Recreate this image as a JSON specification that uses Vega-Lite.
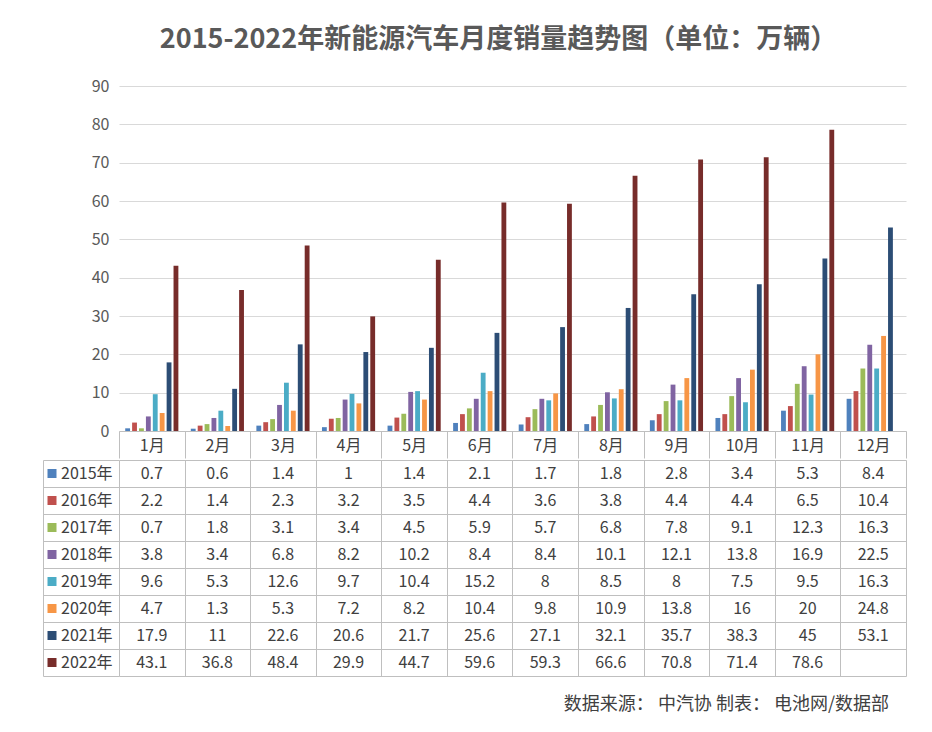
{
  "$schema": "https://vega.github.io/schema/vega-lite/v6.json",
  "background": "white",
  "padding": {"left": 42, "top": 26, "right": 20, "bottom": 10},
  "autosize": {"type": "pad"},
  "title": {
    "text": "2015-2022年新能源汽车月度销量趋势图（单位：万辆）",
    "font": "Noto Sans CJK SC",
    "fontSize": 27,
    "fontWeight": "bold",
    "color": "#595959",
    "anchor": "middle",
    "offset": 24,
    "dx": 24
  },
  "data": {
    "values": [
      {"m": "1月", "y": "2015年", "v": 0.7}, {"m": "2月", "y": "2015年", "v": 0.6}, {"m": "3月", "y": "2015年", "v": 1.4}, {"m": "4月", "y": "2015年", "v": 1.0}, {"m": "5月", "y": "2015年", "v": 1.4}, {"m": "6月", "y": "2015年", "v": 2.1}, {"m": "7月", "y": "2015年", "v": 1.7}, {"m": "8月", "y": "2015年", "v": 1.8}, {"m": "9月", "y": "2015年", "v": 2.8}, {"m": "10月", "y": "2015年", "v": 3.4}, {"m": "11月", "y": "2015年", "v": 5.3}, {"m": "12月", "y": "2015年", "v": 8.4},
      {"m": "1月", "y": "2016年", "v": 2.2}, {"m": "2月", "y": "2016年", "v": 1.4}, {"m": "3月", "y": "2016年", "v": 2.3}, {"m": "4月", "y": "2016年", "v": 3.2}, {"m": "5月", "y": "2016年", "v": 3.5}, {"m": "6月", "y": "2016年", "v": 4.4}, {"m": "7月", "y": "2016年", "v": 3.6}, {"m": "8月", "y": "2016年", "v": 3.8}, {"m": "9月", "y": "2016年", "v": 4.4}, {"m": "10月", "y": "2016年", "v": 4.4}, {"m": "11月", "y": "2016年", "v": 6.5}, {"m": "12月", "y": "2016年", "v": 10.4},
      {"m": "1月", "y": "2017年", "v": 0.7}, {"m": "2月", "y": "2017年", "v": 1.8}, {"m": "3月", "y": "2017年", "v": 3.1}, {"m": "4月", "y": "2017年", "v": 3.4}, {"m": "5月", "y": "2017年", "v": 4.5}, {"m": "6月", "y": "2017年", "v": 5.9}, {"m": "7月", "y": "2017年", "v": 5.7}, {"m": "8月", "y": "2017年", "v": 6.8}, {"m": "9月", "y": "2017年", "v": 7.8}, {"m": "10月", "y": "2017年", "v": 9.1}, {"m": "11月", "y": "2017年", "v": 12.3}, {"m": "12月", "y": "2017年", "v": 16.3},
      {"m": "1月", "y": "2018年", "v": 3.8}, {"m": "2月", "y": "2018年", "v": 3.4}, {"m": "3月", "y": "2018年", "v": 6.8}, {"m": "4月", "y": "2018年", "v": 8.2}, {"m": "5月", "y": "2018年", "v": 10.2}, {"m": "6月", "y": "2018年", "v": 8.4}, {"m": "7月", "y": "2018年", "v": 8.4}, {"m": "8月", "y": "2018年", "v": 10.1}, {"m": "9月", "y": "2018年", "v": 12.1}, {"m": "10月", "y": "2018年", "v": 13.8}, {"m": "11月", "y": "2018年", "v": 16.9}, {"m": "12月", "y": "2018年", "v": 22.5},
      {"m": "1月", "y": "2019年", "v": 9.6}, {"m": "2月", "y": "2019年", "v": 5.3}, {"m": "3月", "y": "2019年", "v": 12.6}, {"m": "4月", "y": "2019年", "v": 9.7}, {"m": "5月", "y": "2019年", "v": 10.4}, {"m": "6月", "y": "2019年", "v": 15.2}, {"m": "7月", "y": "2019年", "v": 8}, {"m": "8月", "y": "2019年", "v": 8.5}, {"m": "9月", "y": "2019年", "v": 8}, {"m": "10月", "y": "2019年", "v": 7.5}, {"m": "11月", "y": "2019年", "v": 9.5}, {"m": "12月", "y": "2019年", "v": 16.3},
      {"m": "1月", "y": "2020年", "v": 4.7}, {"m": "2月", "y": "2020年", "v": 1.3}, {"m": "3月", "y": "2020年", "v": 5.3}, {"m": "4月", "y": "2020年", "v": 7.2}, {"m": "5月", "y": "2020年", "v": 8.2}, {"m": "6月", "y": "2020年", "v": 10.4}, {"m": "7月", "y": "2020年", "v": 9.8}, {"m": "8月", "y": "2020年", "v": 10.9}, {"m": "9月", "y": "2020年", "v": 13.8}, {"m": "10月", "y": "2020年", "v": 16}, {"m": "11月", "y": "2020年", "v": 20}, {"m": "12月", "y": "2020年", "v": 24.8},
      {"m": "1月", "y": "2021年", "v": 17.9}, {"m": "2月", "y": "2021年", "v": 11}, {"m": "3月", "y": "2021年", "v": 22.6}, {"m": "4月", "y": "2021年", "v": 20.6}, {"m": "5月", "y": "2021年", "v": 21.7}, {"m": "6月", "y": "2021年", "v": 25.6}, {"m": "7月", "y": "2021年", "v": 27.1}, {"m": "8月", "y": "2021年", "v": 32.1}, {"m": "9月", "y": "2021年", "v": 35.7}, {"m": "10月", "y": "2021年", "v": 38.3}, {"m": "11月", "y": "2021年", "v": 45}, {"m": "12月", "y": "2021年", "v": 53.1},
      {"m": "1月", "y": "2022年", "v": 43.1}, {"m": "2月", "y": "2022年", "v": 36.8}, {"m": "3月", "y": "2022年", "v": 48.4}, {"m": "4月", "y": "2022年", "v": 29.9}, {"m": "5月", "y": "2022年", "v": 44.7}, {"m": "6月", "y": "2022年", "v": 59.6}, {"m": "7月", "y": "2022年", "v": 59.3}, {"m": "8月", "y": "2022年", "v": 66.6}, {"m": "9月", "y": "2022年", "v": 70.8}, {"m": "10月", "y": "2022年", "v": 71.4}, {"m": "11月", "y": "2022年", "v": 78.6}, {"m": "12月", "y": "2022年", "v": null}
    ]
  },
  "spacing": 0,
  "vconcat": [
    {
      "width": 787,
      "height": 345,
      "mark": {"type": "bar"},
      "transform": [{"filter": "isValid(datum.v)"}],
      "encoding": {
        "x": {
          "field": "m",
          "type": "nominal",
          "scale": {"domain": ["1月", "2月", "3月", "4月", "5月", "6月", "7月", "8月", "9月", "10月", "11月", "12月"], "paddingInner": 0, "paddingOuter": 0},
          "axis": {
            "title": null,
            "labelAngle": 0,
            "labelFontSize": 16,
            "labelColor": "#404040",
            "labelPadding": -21,
            "tickBand": "extent",
            "tickSize": 27,
            "tickColor": "#bfbfbf",
            "domainColor": "#bfbfbf",
            "grid": false
          }
        },
        "xOffset": {
          "field": "y",
          "type": "nominal",
          "scale": {"paddingInner": 0.3, "paddingOuter": 0.9}
        },
        "y": {
          "field": "v",
          "type": "quantitative",
          "scale": {"domain": [0, 90], "nice": false},
          "axis": {
            "title": null,
            "values": [0, 10, 20, 30, 40, 50, 60, 70, 80, 90],
            "labelFontSize": 16,
            "labelColor": "#595959",
            "labelPadding": 10,
            "ticks": false,
            "domain": false,
            "grid": true,
            "gridColor": "#d9d9d9",
            "minExtent": 76,
            "maxExtent": 76
          }
        },
        "color": {
          "field": "y",
          "type": "nominal",
          "scale": {
            "domain": ["2015年", "2016年", "2017年", "2018年", "2019年", "2020年", "2021年", "2022年"],
            "range": ["#4F81BD", "#C0504D", "#9BBB59", "#8064A2", "#4BACC6", "#F79646", "#2C4D75", "#772C2A"]
          },
          "legend": null
        }
      }
    },
    {
      "width": 787,
      "height": 216,
      "title": {
        "text": "数据来源： 中汽协  制表： 电池网/数据部",
        "orient": "bottom",
        "anchor": "end",
        "fontSize": 18,
        "fontWeight": "normal",
        "color": "#404040",
        "offset": 19,
        "dx": -17
      },
      "layer": [
        {
          "transform": [{"filter": "isValid(datum.v)"}],
          "mark": {"type": "text", "fontSize": 16, "color": "#404040"},
          "encoding": {
            "x": {
              "field": "m",
              "type": "nominal",
              "scale": {"domain": ["1月", "2月", "3月", "4月", "5月", "6月", "7月", "8月", "9月", "10月", "11月", "12月"], "paddingInner": 0, "paddingOuter": 0},
              "axis": {"title": null, "labels": false, "ticks": false, "domain": false, "grid": true, "tickBand": "extent", "gridColor": "#bfbfbf"}
            },
            "y": {
              "field": "y",
              "type": "nominal",
              "scale": {"domain": ["2015年", "2016年", "2017年", "2018年", "2019年", "2020年", "2021年", "2022年"], "paddingInner": 0, "paddingOuter": 0},
              "axis": {"title": null, "labels": false, "ticks": true, "tickSize": -76, "tickColor": "#bfbfbf", "offset": 76, "domain": true, "domainColor": "#bfbfbf", "grid": true, "tickBand": "extent", "gridColor": "#bfbfbf"}
            },
            "text": {"field": "v", "type": "nominal"}
          }
        },
        {
          "transform": [{"filter": {"field": "m", "equal": "1月"}}],
          "layer": [
            {
              "mark": {"type": "point", "shape": "square", "filled": true, "size": 81, "opacity": 1},
              "encoding": {
                "x": {"datum": "k", "type": "nominal", "scale": {"type": "band", "domain": ["k", "t"], "range": [-76, -40], "paddingInner": 0, "paddingOuter": 0}, "axis": null},
                "y": {"field": "y", "type": "nominal"},
                "color": {"field": "y", "type": "nominal", "legend": null}
              }
            },
            {
              "mark": {"type": "text", "align": "left", "fontSize": 16, "color": "#404040"},
              "encoding": {
                "x": {"datum": "t", "type": "nominal", "bandPosition": 0},
                "y": {"field": "y", "type": "nominal"},
                "text": {"field": "y", "type": "nominal"}
              }
            }
          ]
        }
      ],
      "resolve": {"scale": {"x": "independent"}}
    }
  ],
  "config": {
    "font": "Noto Sans CJK SC",
    "view": {"stroke": null},
    "axis": {"labelFont": "Noto Sans CJK SC"},
    "title": {"font": "Noto Sans CJK SC"}
  }
}
